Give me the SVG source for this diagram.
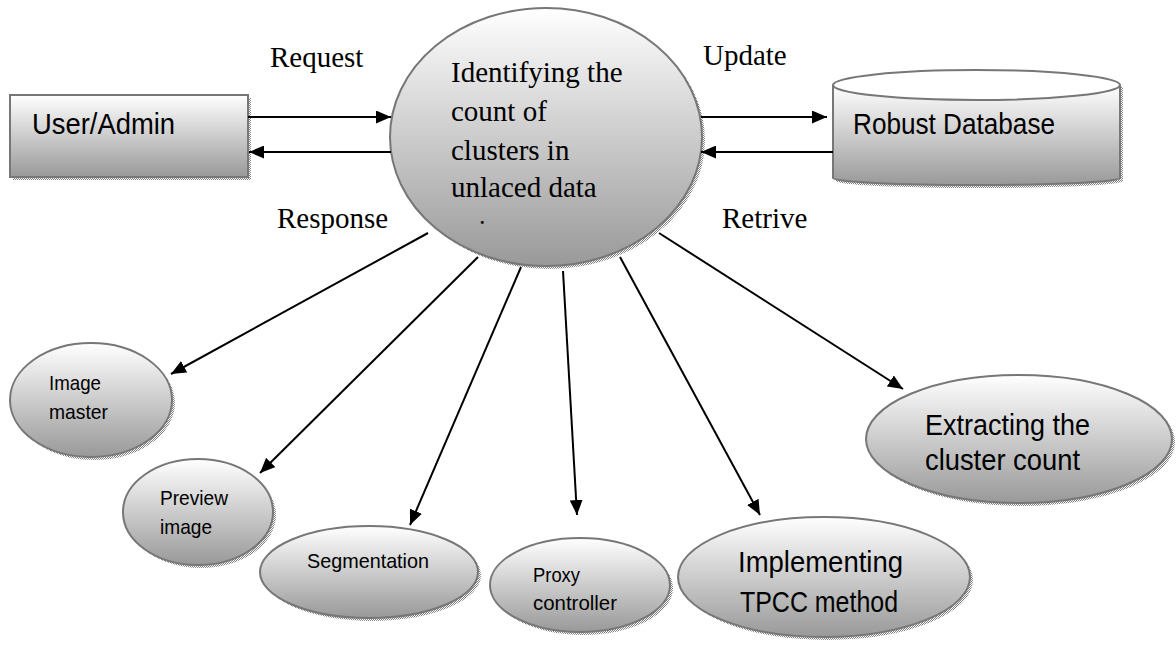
<svg xmlns="http://www.w3.org/2000/svg" width="1176" height="650" viewBox="0 0 1176 650">
<defs>
<linearGradient id="g" x1="0" y1="0" x2="0" y2="1">
<stop offset="0" stop-color="#ffffff"/>
<stop offset="1" stop-color="#999999"/>
</linearGradient>
<pattern id="chk" width="2" height="2" patternUnits="userSpaceOnUse">
<rect width="2" height="2" fill="#ffffff"/>
<rect width="1" height="1" fill="#808080"/>
<rect x="1" y="1" width="1" height="1" fill="#808080"/>
</pattern>
<marker id="ah" markerUnits="userSpaceOnUse" markerWidth="15" markerHeight="13" refX="15" refY="6.5" orient="auto">
<path d="M0,0 L15,6.5 L0,13 z" fill="#000"/>
</marker>
<style>
.sh{fill:url(#chk);stroke:none}
.nd{fill:url(#g);stroke:#777;stroke-width:2}
.ser{font-family:"Liberation Serif","Times New Roman",serif;font-size:29px;fill:#000}
.dot{font-family:"Liberation Serif","Times New Roman",serif;font-size:18px;font-weight:bold;fill:#000}
.san{font-family:"Liberation Sans",Arial,sans-serif;fill:#000}
.cn line{stroke:#000;stroke-width:2;marker-end:url(#ah)}
</style>
</defs>
<rect width="1176" height="650" fill="#ffffff"/>

<g id="user-admin">
<rect class="sh" x="13" y="98" width="238" height="82"/>
<rect class="nd" x="10" y="95" width="238" height="82"/>
<text class="san" x="32" y="134" font-size="29" textLength="143" lengthAdjust="spacingAndGlyphs">User/Admin</text>
</g>

<g id="center">
<ellipse class="sh" cx="549" cy="140" rx="156" ry="129"/>
<ellipse class="nd" cx="546" cy="137" rx="156" ry="129"/>
<text class="ser" x="451" y="82">Identifying the</text>
<text class="ser" x="451" y="121">count of</text>
<text class="ser" x="451" y="160">clusters in</text>
<text class="ser" x="451" y="197">unlaced data</text>
<text class="dot" x="480" y="224">.</text>
</g>

<g id="database">
<path class="sh" d="M836,88 L836,181 A143,7 0 0 0 1123,181 L1123,88 A143,15 0 0 0 836,88 z"/>
<path class="nd" d="M833,85 L833,178 A143,7 0 0 0 1120,178 L1120,85"/>
<ellipse cx="976.5" cy="85" rx="143.5" ry="15" fill="#ffffff" stroke="#777" stroke-width="2"/>
<text class="san" x="853" y="134" font-size="30" textLength="202" lengthAdjust="spacingAndGlyphs">Robust Database</text>
</g>

<g id="labels">
<text class="ser" x="270" y="67">Request</text>
<text class="ser" x="277" y="228">Response</text>
<text class="ser" x="703" y="65">Update</text>
<text class="ser" x="722" y="228">Retrive</text>
</g>

<g id="image-master">
<ellipse class="sh" cx="94" cy="403" rx="81" ry="57"/>
<ellipse class="nd" cx="91" cy="400" rx="81" ry="57"/>
<text class="san" x="49" y="390" font-size="21" textLength="52" lengthAdjust="spacingAndGlyphs">Image</text>
<text class="san" x="49" y="419" font-size="21" textLength="59" lengthAdjust="spacingAndGlyphs">master</text>
</g>

<g id="preview-image">
<ellipse class="sh" cx="201" cy="515" rx="75" ry="53"/>
<ellipse class="nd" cx="198" cy="512" rx="75" ry="53"/>
<text class="san" x="160" y="505" font-size="21" textLength="68" lengthAdjust="spacingAndGlyphs">Preview</text>
<text class="san" x="160" y="534" font-size="21" textLength="52" lengthAdjust="spacingAndGlyphs">image</text>
</g>

<g id="segmentation">
<ellipse class="sh" cx="372" cy="575" rx="109" ry="46"/>
<ellipse class="nd" cx="369" cy="572" rx="109" ry="46"/>
<text class="san" x="307" y="568" font-size="21" textLength="122" lengthAdjust="spacingAndGlyphs">Segmentation</text>
</g>

<g id="proxy-controller">
<ellipse class="sh" cx="583" cy="588" rx="90" ry="47"/>
<ellipse class="nd" cx="580" cy="585" rx="90" ry="47"/>
<text class="san" x="533" y="582" font-size="21" textLength="47" lengthAdjust="spacingAndGlyphs">Proxy</text>
<text class="san" x="533" y="610" font-size="21" textLength="84" lengthAdjust="spacingAndGlyphs">controller</text>
</g>

<g id="implementing-tpcc">
<ellipse class="sh" cx="827" cy="580" rx="146" ry="60"/>
<ellipse class="nd" cx="824" cy="577" rx="146" ry="60"/>
<text class="san" x="738" y="572" font-size="29" textLength="165" lengthAdjust="spacingAndGlyphs">Implementing</text>
<text class="san" x="740" y="612" font-size="29" textLength="158" lengthAdjust="spacingAndGlyphs">TPCC method</text>
</g>

<g id="extracting">
<ellipse class="sh" cx="1022" cy="442" rx="153" ry="64"/>
<ellipse class="nd" cx="1019" cy="439" rx="153" ry="64"/>
<text class="san" x="925" y="435" font-size="30" textLength="165" lengthAdjust="spacingAndGlyphs">Extracting the</text>
<text class="san" x="925" y="470" font-size="30" textLength="155" lengthAdjust="spacingAndGlyphs">cluster count</text>
</g>

<g id="connectors" class="cn">
<line x1="248" y1="117" x2="391" y2="117"/>
<line x1="391" y1="152" x2="249" y2="152"/>
<line x1="701" y1="117" x2="827" y2="117"/>
<line x1="833" y1="152" x2="701" y2="152"/>
<line x1="428" y1="233" x2="171" y2="374"/>
<line x1="478" y1="257" x2="260" y2="473"/>
<line x1="521" y1="267" x2="410" y2="525"/>
<line x1="563" y1="271" x2="577" y2="515"/>
<line x1="620" y1="257" x2="760" y2="515"/>
<line x1="659" y1="233" x2="903" y2="389"/>
</g>
</svg>
